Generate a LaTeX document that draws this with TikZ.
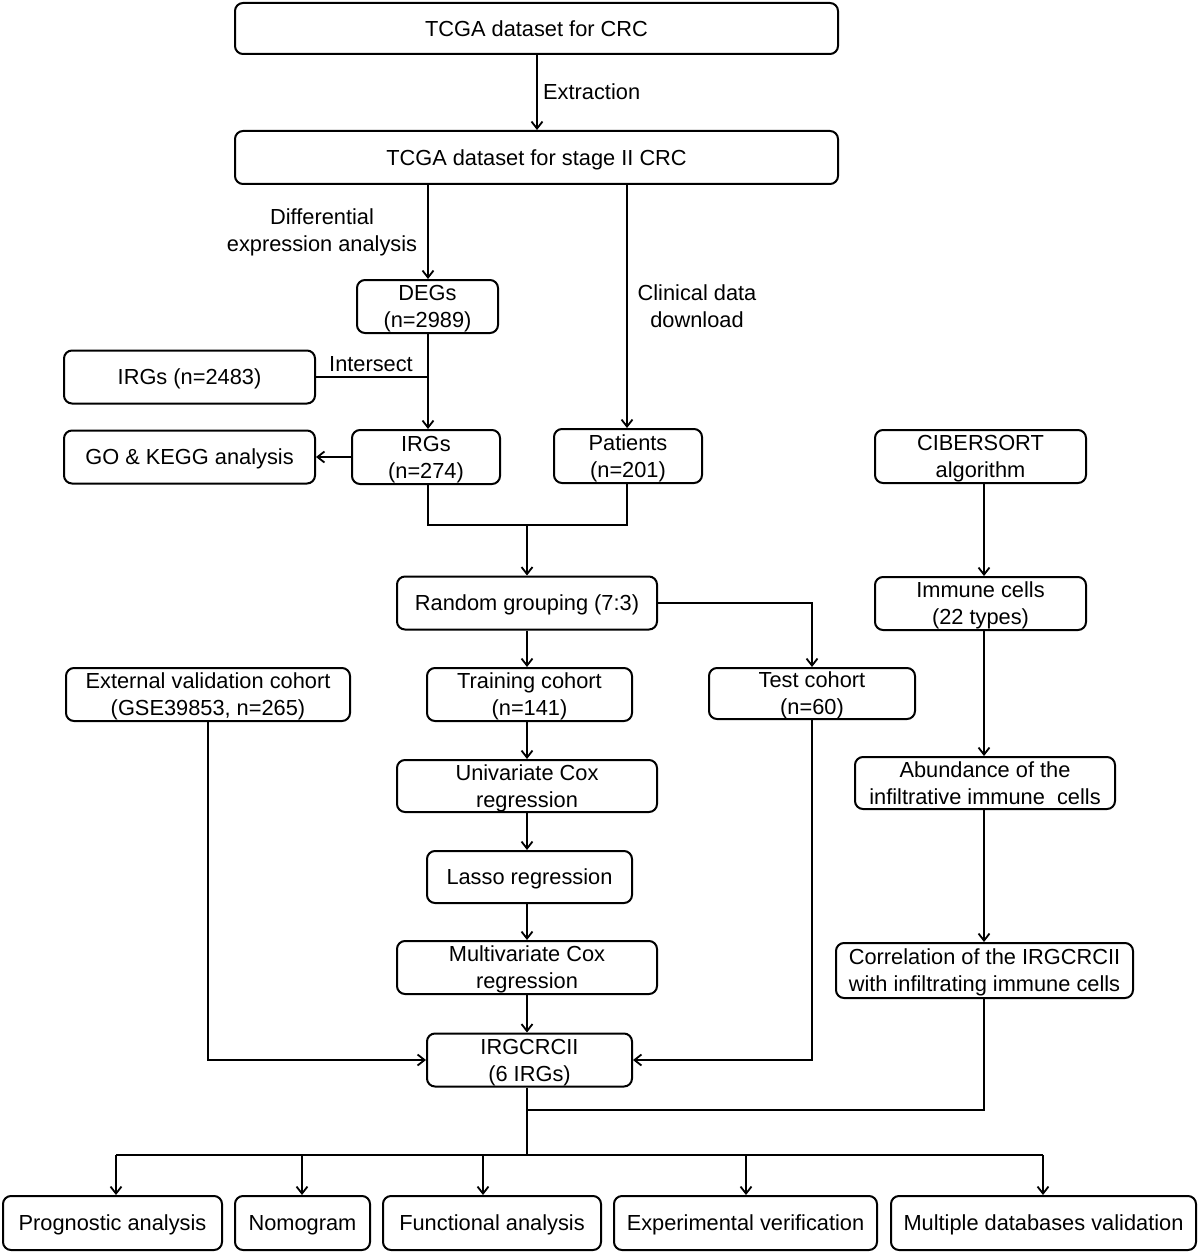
\documentclass[tikz,border=0pt]{standalone}
\usepackage{fontspec}
\setmainfont{Liberation Sans}
\usetikzlibrary{arrows.meta}
\tikzset{
  box/.style={draw, line width=2pt, rounded corners=8pt, inner sep=0pt, align=center, text depth=0pt, font=\fontsize{21.8}{27}\selectfont},
  lbl/.style={inner sep=0pt, align=center, font=\fontsize{21.8}{27}\selectfont},
  conn/.style={line width=2pt},
  arr/.style={line width=2pt, -{Straight Barb[length=7pt,width=11pt,line width=1.8pt]}}
}
\begin{document}
\begin{tikzpicture}[x=1pt,y=-1pt]
\useasboundingbox (0,0) rectangle (1200,1252);
% boxes
\node[box, minimum width=603, minimum height=51] (tcga) at (536.5,28.5) {TCGA dataset for CRC};
\node[box, minimum width=603, minimum height=53] (stage) at (536.5,157.5) {TCGA dataset for stage II CRC};
\node[box, minimum width=141, minimum height=53] (degs) at (427.5,306.5) {DEGs\\(n=2989)};
\node[box, minimum width=251, minimum height=53] (irgall) at (189.5,377) {IRGs (n=2483)};
\node[box, minimum width=148, minimum height=54] (irgs) at (426,457) {IRGs\\(n=274)};
\node[box, minimum width=251, minimum height=53] (go) at (189.5,457) {GO \& KEGG analysis};
\node[box, minimum width=148, minimum height=54] (pat) at (628,456) {Patients\\(n=201)};
\node[box, minimum width=211, minimum height=53] (cib) at (980.5,456.5) {CIBERSORT\\algorithm};
\node[box, minimum width=260, minimum height=53] (rand) at (527,603) {Random grouping (7:3)};
\node[box, minimum width=211, minimum height=53] (imm) at (980.5,603.5) {Immune cells\\(22 types)};
\node[box, minimum width=284, minimum height=53] (ext) at (208,694.5) {External validation cohort\\(GSE39853, n=265)};
\node[box, minimum width=205, minimum height=53] (train) at (529.5,694.5) {Training cohort\\(n=141)};
\node[box, minimum width=206, minimum height=51] (test) at (812,693.5) {Test cohort\\(n=60)};
\node[box, minimum width=260, minimum height=52] (uni) at (527,786) {Univariate Cox\\regression};
\node[box, minimum width=260, minimum height=52] (abund) at (985,783) {Abundance of the\\infiltrative immune\ \ cells};
\node[box, minimum width=205, minimum height=52] (lasso) at (529.5,877) {Lasso regression};
\node[box, minimum width=260, minimum height=53] (multi) at (527,967.5) {Multivariate Cox\\regression};
\node[box, minimum width=297, minimum height=55] (corr) at (984.5,970.5) {Correlation of the IRGCRCII\\with infiltrating immune cells};
\node[box, minimum width=205, minimum height=53] (irgc) at (529.5,1060) {IRGCRCII\\(6 IRGs)};
\node[box, minimum width=219, minimum height=54] (prog) at (112.5,1223) {Prognostic analysis};
\node[box, minimum width=135, minimum height=54] (nomo) at (302.5,1223) {Nomogram};
\node[box, minimum width=218, minimum height=54] (func) at (492,1223) {Functional analysis};
\node[box, minimum width=263, minimum height=54] (expv) at (745.5,1223) {Experimental verification};
\node[box, minimum width=305, minimum height=54] (mdb) at (1043.5,1223) {Multiple databases validation};
% labels
\node[lbl, anchor=west] (lext) at (543,92) {Extraction};
\node[lbl] (ldiff) at (322,232) {Differential\\expression analysis};
\node[lbl] (lclin) at (697,306) {Clinical data\\download};
\node[lbl] (linter) at (371,364) {Intersect};
% coordinates
\coordinate (jA) at (527,525);
\coordinate (jB) at (527,1110);
\coordinate (jC) at (527,1155);
\coordinate (hL) at (116,1155);
\coordinate (hR) at (1043,1155);
% connectors
\draw[arr] (tcga.south -| 537,0) -- (stage.north -| 537,0);
\draw[arr] (stage.south -| 428,0) -- (degs.north -| 428,0);
\draw[arr] (stage.south -| 627,0) -- (pat.north -| 627,0);
\draw[arr] (degs.south -| 428,0) -- (irgs.north -| 428,0);
\draw[conn] (irgall.east) -- (irgall.east -| 428,0);
\draw[arr] (irgs.west) -- (go.east);
\draw[conn] (irgs.south -| 428,0) |- (jA) -| (pat.south -| 627,0);
\draw[arr] (jA) -- (rand.north);
\draw[arr] (rand.east) -| (test.north);
\draw[arr] (rand.south) -- (rand.south |- train.north);
\draw[arr] (train.south -| 527,0) -- (uni.north);
\draw[arr] (uni.south) -- (uni.south |- lasso.north);
\draw[arr] (lasso.south -| 527,0) -- (multi.north);
\draw[arr] (multi.south) -- (multi.south |- irgc.north);
\draw[arr] (ext.south) |- (irgc.west);
\draw[arr] (test.south) |- (irgc.east);
\draw[arr] (cib.south -| 984,0) -- (imm.north -| 984,0);
\draw[arr] (imm.south -| 984,0) -- (abund.north -| 984,0);
\draw[arr] (abund.south -| 984,0) -- (corr.north -| 984,0);
\draw[conn] (corr.south -| 984,0) |- (jB);
\draw[conn] (irgc.south -| 527,0) -- (jC);
\draw[conn] (hL) -- (hR);
\draw[arr] (hL) -- (hL |- prog.north);
\draw[arr] (hL -| 302,0) -- (nomo.north -| 302,0);
\draw[arr] (hL -| 483,0) -- (func.north -| 483,0);
\draw[arr] (hL -| 746,0) -- (expv.north -| 746,0);
\draw[arr] (hR) -- (hR |- mdb.north);
\end{tikzpicture}
\end{document}
